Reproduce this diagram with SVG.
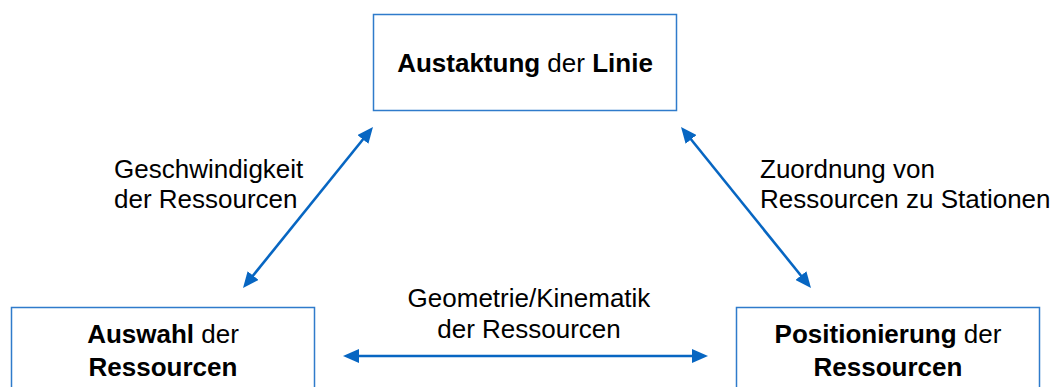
<svg xmlns="http://www.w3.org/2000/svg" width="1058" height="387" viewBox="0 0 1058 387">
  <style>
    .box { fill: #ffffff; stroke: #2F7BCB; stroke-width: 1.5; }
    .lbl { font-family: "Liberation Sans", Arial, sans-serif; font-size: 26px; fill: #000000; }
    .b { font-weight: bold; }
    .conn { fill: none; stroke: #0766C2; stroke-width: 2.6; }
  </style>
  <defs>
    <marker id="head" markerUnits="userSpaceOnUse" markerWidth="16" markerHeight="14" refX="6" refY="7" orient="auto-start-reverse">
      <path d="M0,0 L16,7 L0,14 z" fill="#0766C2"/>
    </marker>
  </defs>
  <rect width="1058" height="387" fill="#ffffff"/>

  <g id="node-austaktung">
    <rect class="box" x="373.5" y="14.5" width="303" height="96"/>
    <text class="lbl" x="525" y="72" text-anchor="middle"><tspan class="b">Austaktung</tspan> der <tspan class="b">Linie</tspan></text>
  </g>

  <g id="node-auswahl">
    <rect class="box" x="11.5" y="307.5" width="303" height="96"/>
    <text class="lbl" x="163" y="343" text-anchor="middle"><tspan class="b">Auswahl</tspan> der</text>
    <text class="lbl b" x="163" y="376" text-anchor="middle">Ressourcen</text>
  </g>

  <g id="node-positionierung">
    <rect class="box" x="736.5" y="307.5" width="303" height="96"/>
    <text class="lbl" x="888" y="343" text-anchor="middle"><tspan class="b">Positionierung</tspan> der</text>
    <text class="lbl b" x="888" y="376" text-anchor="middle">Ressourcen</text>
  </g>

  <g id="connectors">
    <line class="conn" x1="249.3" y1="280.2" x2="366.7" y2="134.8" marker-start="url(#head)" marker-end="url(#head)"/>
    <line class="conn" x1="687.3" y1="134.8" x2="804.7" y2="280.2" marker-start="url(#head)" marker-end="url(#head)"/>
    <line class="conn" x1="353" y1="356" x2="698" y2="356" marker-start="url(#head)" marker-end="url(#head)"/>
  </g>

  <g id="labels">
    <text class="lbl" x="114" y="178">Geschwindigkeit</text>
    <text class="lbl" x="114" y="208">der Ressourcen</text>
    <text class="lbl" x="760" y="178">Zuordnung von</text>
    <text class="lbl" x="760" y="208">Ressourcen zu Stationen</text>
    <text class="lbl" x="529" y="307" text-anchor="middle">Geometrie/Kinematik</text>
    <text class="lbl" x="529" y="338" text-anchor="middle">der Ressourcen</text>
  </g>
</svg>
